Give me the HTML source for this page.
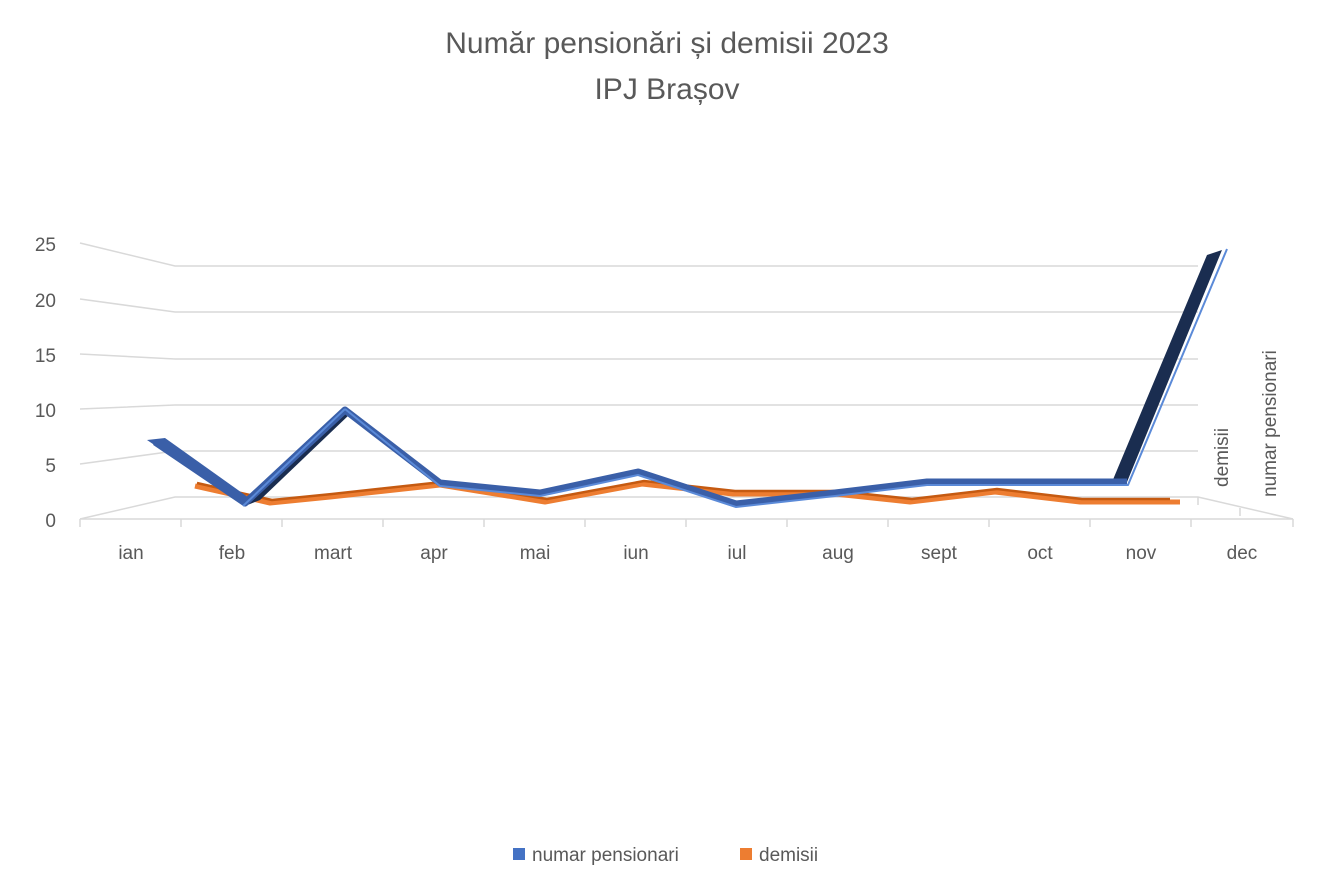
<!DOCTYPE html>
<html><head><meta charset="utf-8"><style>
body{margin:0;background:#fff;}
svg{display:block;font-family:"Liberation Sans",sans-serif;}
</style></head><body>
<svg width="1334" height="889" viewBox="0 0 1334 889">
<text x="667" y="53" text-anchor="middle" font-size="30" fill="#595959">Număr pensionări și demisii 2023</text>
<text x="667" y="99" text-anchor="middle" font-size="30" fill="#595959">IPJ Brașov</text>
<g stroke="#d9d9d9" stroke-width="1.5" fill="none">
<polyline points="80,243 175,266 1198,266"/>
<polyline points="80,299 175,312 1198,312"/>
<polyline points="80,354 175,359 1198,359"/>
<polyline points="80,409 175,405 1198,405"/>
<polyline points="80,464 175,451 1198,451"/>
<polyline points="80,519 175,497 1198,497 1293,519"/>
<line x1="80" y1="519" x2="1293" y2="519"/>
<line x1="1198" y1="497" x2="1198" y2="505"/>
<line x1="1240" y1="508" x2="1240" y2="516"/>
</g>
<g stroke="#d9d9d9" stroke-width="1.5">
<line x1="80" y1="519" x2="80" y2="527"/><line x1="181" y1="519" x2="181" y2="527"/><line x1="282" y1="519" x2="282" y2="527"/><line x1="383" y1="519" x2="383" y2="527"/><line x1="484" y1="519" x2="484" y2="527"/><line x1="585" y1="519" x2="585" y2="527"/><line x1="686" y1="519" x2="686" y2="527"/><line x1="787" y1="519" x2="787" y2="527"/><line x1="888" y1="519" x2="888" y2="527"/><line x1="989" y1="519" x2="989" y2="527"/><line x1="1090" y1="519" x2="1090" y2="527"/><line x1="1191" y1="519" x2="1191" y2="527"/><line x1="1293" y1="519" x2="1293" y2="527"/>
</g>
<g font-size="19" fill="#595959" text-anchor="end">
<text x="56" y="251">25</text><text x="56" y="307">20</text><text x="56" y="362">15</text><text x="56" y="417">10</text><text x="56" y="472">5</text><text x="56" y="527">0</text>
</g>
<g font-size="19" fill="#595959" text-anchor="middle">
<text x="131" y="559">ian</text><text x="232" y="559">feb</text><text x="333" y="559">mart</text><text x="434" y="559">apr</text><text x="535" y="559">mai</text><text x="636" y="559">iun</text><text x="737" y="559">iul</text><text x="838" y="559">aug</text><text x="939" y="559">sept</text><text x="1040" y="559">oct</text><text x="1141" y="559">nov</text><text x="1242" y="559">dec</text>
</g>
<text transform="translate(1228,487) rotate(-90)" font-size="19" fill="#595959">demisii</text>
<text transform="translate(1276,497) rotate(-90)" font-size="19" fill="#595959">numar pensionari</text>
<!-- orange -->
<polyline points="195,486 270,503 330,497 440,485 545,502 642,484 733,494 835,494 910,502 995,492 1080,502 1180,502" fill="none" stroke="#ed7d31" stroke-width="5" stroke-linejoin="round"/>
<polyline points="197,483 272,500 332,494 442,482 547,499 644,481 735,491 837,491 912,499 997,489 1082,499 1170,499" fill="none" stroke="#c55a11" stroke-width="2.5" stroke-linejoin="round"/>
<!-- blue -->
<polygon points="147,440 165,438 252,500 245,506" fill="#3a5fa8"/>
<polygon points="245,506 260,500 350,414 345,409" fill="#1a2d50"/>
<polygon points="1112,482 1127,482 1222,250 1207,255" fill="#1a2d50"/>
<polyline points="155,442 245,503 345,410 440,483 540,493 638,472 736,504 835,493 927,482 1027,482 1127,482" fill="none" stroke="#3a5fa8" stroke-width="7" stroke-linejoin="round"/>
<polyline points="243,506 345,409" fill="none" stroke="#5b8ad8" stroke-width="2"/>
<polyline points="345,409 440,486 540,496 638,475 736,507 835,496 927,485 1027,485 1128,485 1227,249" fill="none" stroke="#5b8ad8" stroke-width="2" stroke-linejoin="round"/>
<!-- legend -->
<rect x="513" y="848" width="12" height="12" fill="#4472c4"/>
<text x="532" y="861" font-size="19" fill="#595959">numar pensionari</text>
<rect x="740" y="848" width="12" height="12" fill="#ed7d31"/>
<text x="759" y="861" font-size="19" fill="#595959">demisii</text>
</svg>
</body></html>
